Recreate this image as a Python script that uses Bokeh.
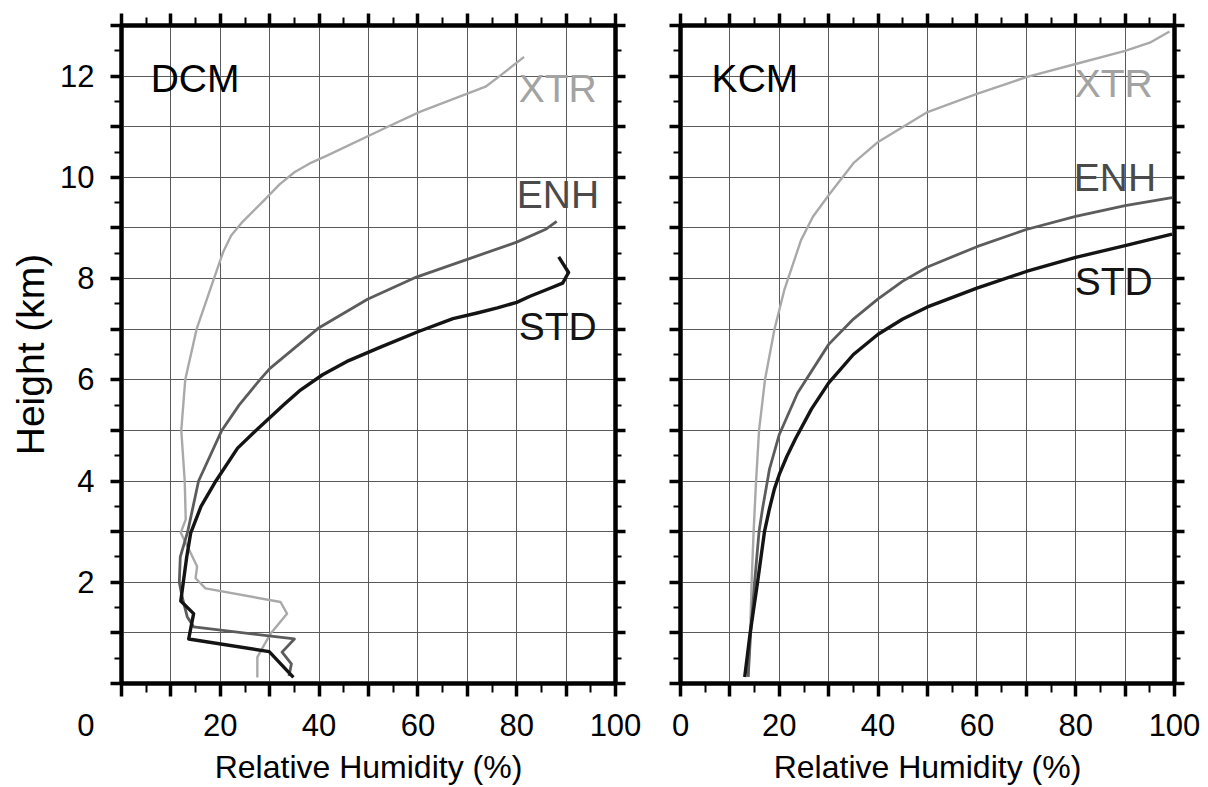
from bokeh.plotting import figure
from bokeh.layouts import row
from bokeh.models import FixedTicker, LinearAxis, Label, Range1d, Grid
from bokeh.embed import file_html
from bokeh.resources import INLINE

# ---------------- data ----------------
dcm_std_rh = [34.8, 29.9, 13.6, 14.6, 12.0, 12.5, 13.2, 14.0, 16.1, 18.9, 23.5, 27.0,
              32.9, 36.0, 40.7, 46.0, 52.3, 60.0, 67.1, 72.0, 76.1, 80.0, 82.7, 86.0,
              89.3, 90.5, 88.5]
dcm_std_z = [0.12, 0.63, 0.88, 1.38, 1.63, 1.99, 2.50, 2.97, 3.50, 3.97, 4.65, 4.98,
             5.51, 5.78, 6.10, 6.38, 6.64, 6.95, 7.21, 7.32, 7.42, 7.53, 7.65, 7.78,
             7.91, 8.12, 8.43]

dcm_enh_rh = [33.9, 34.4, 32.5, 35.0, 14.6, 13.3, 12.3, 11.7, 11.9, 13.4, 15.6, 20.3,
              23.8, 28.0, 30.0, 40.0, 49.8, 59.7, 70.0, 80.0, 86.0, 88.1]
dcm_enh_z = [0.15, 0.39, 0.62, 0.88, 1.12, 1.32, 1.70, 2.00, 2.50, 3.00, 4.00, 5.00,
             5.50, 6.00, 6.22, 7.03, 7.59, 8.03, 8.38, 8.72, 8.98, 9.13]

dcm_xtr_rh = [27.5, 27.5, 30.2, 33.5, 32.2, 17.0, 15.0, 15.3, 14.0, 12.0, 13.0, 12.8,
              12.1, 12.9, 15.2, 18.5, 20.6, 22.2, 24.3, 29.2, 32.0, 35.0, 38.0, 41.6,
              53.9, 60.5, 73.7, 76.8, 81.5]
dcm_xtr_z = [0.12, 0.52, 0.99, 1.38, 1.61, 1.88, 2.08, 2.31, 2.58, 2.98, 3.24, 4.00,
             5.00, 6.00, 7.00, 7.94, 8.53, 8.85, 9.10, 9.58, 9.86, 10.10, 10.27, 10.43,
             11.00, 11.30, 11.79, 12.02, 12.38]

kcm_std_rh = [13.0, 14.1, 15.6, 17.0, 18.0, 19.0, 20.0, 21.5, 23.3, 26.5, 30.0, 35.0,
              40.0, 45.0, 50.0, 60.0, 70.0, 80.0, 90.0, 99.5]
kcm_std_z = [0.13, 1.00, 2.00, 3.00, 3.45, 3.84, 4.13, 4.48, 4.84, 5.42, 5.94, 6.50,
             6.90, 7.20, 7.44, 7.81, 8.14, 8.42, 8.65, 8.88]

kcm_enh_rh = [13.7, 14.2, 15.0, 15.9, 16.6, 18.0, 20.0, 23.7, 30.0, 35.0, 40.0, 45.0,
              50.0, 60.0, 70.0, 80.0, 90.0, 99.5]
kcm_enh_z = [0.13, 1.00, 2.00, 3.00, 3.45, 4.23, 4.92, 5.74, 6.70, 7.20, 7.60, 7.95,
             8.23, 8.63, 8.97, 9.23, 9.44, 9.60]

kcm_xtr_rh = [13.7, 14.1, 14.4, 14.8, 15.3, 15.9, 17.1, 19.0, 21.0, 24.4, 26.8, 30.1,
              35.0, 40.0, 50.0, 60.0, 70.0, 80.0, 90.0, 95.0, 99.0]
kcm_xtr_z = [0.13, 1.00, 2.00, 3.00, 4.00, 5.00, 6.00, 6.99, 7.77, 8.76, 9.22, 9.66,
             10.28, 10.70, 11.29, 11.65, 11.98, 12.24, 12.50, 12.66, 12.88]

panel_names = ["DCM", "KCM"]
series_names = ["XTR", "ENH", "STD"]
x_ticks = [0, 10, 20, 30, 40, 50, 60, 70, 80, 90, 100]
x_minor = [5, 15, 25, 35, 45, 55, 65, 75, 85, 95]
x_labels_left = [20, 40, 60, 80, 100]
x_labels_right = [0, 20, 40, 60, 80, 100]
y_ticks = list(range(0, 14))
y_minor = [i + 0.5 for i in range(0, 13)]
y_labels = [0, 2, 4, 6, 8, 10, 12]
x_title = "Relative Humidity (%)"
y_title = "Height (km)"

FONT = "Liberation Sans"
COL = {"XTR": "#a9a9a9", "ENH": "#5c5c5c", "STD": "#141414"}
LW = {"XTR": 2.4, "ENH": 2.8, "STD": 3.4}
TXT = {"XTR": "#a3a3a3", "ENH": "#4a4a4a", "STD": "#141414"}


def tick_axis(ticks, minor, major_len, minor_len):
    """Axis that draws the frame line and tick marks only (no labels)."""
    ax = LinearAxis(ticker=FixedTicker(ticks=ticks, minor_ticks=minor))
    ax.axis_line_width = 4
    ax.axis_line_color = "black"
    ax.major_tick_in = 0
    ax.major_tick_out = major_len
    ax.major_tick_line_width = 3.5
    ax.major_tick_line_color = "black"
    ax.minor_tick_in = 0
    ax.minor_tick_out = minor_len
    ax.minor_tick_line_width = 2
    ax.minor_tick_line_color = "black"
    ax.major_label_text_color = None
    ax.major_label_text_font_size = "1px"
    ax.major_label_standoff = 0
    return ax


def label_axis(ticks, standoff):
    """Axis that draws the tick labels only (no line, no tick marks)."""
    ax = LinearAxis(ticker=FixedTicker(ticks=ticks, minor_ticks=[]))
    ax.axis_line_color = None
    ax.major_tick_in = 0
    ax.major_tick_out = 0
    ax.major_tick_line_color = None
    ax.minor_tick_in = 0
    ax.minor_tick_out = 0
    ax.minor_tick_line_color = None
    ax.major_label_text_font = FONT
    ax.major_label_text_font_size = "31px"
    ax.major_label_text_color = "black"
    ax.major_label_standoff = standoff
    return ax


def make_panel(width, bl, br, series, is_left):
    p = figure(width=width, height=787, x_range=Range1d(0, 100), y_range=Range1d(0, 13),
               x_axis_type=None, y_axis_type=None, output_backend="svg",
               toolbar_location=None, min_border_left=bl, min_border_right=br,
               min_border_top=25, min_border_bottom=104)
    p.outline_line_color = "black"
    p.outline_line_width = 4
    p.background_fill_color = "white"
    p.border_fill_color = "white"

    p.add_layout(Grid(dimension=0, ticker=FixedTicker(ticks=x_ticks[1:-1]),
                      grid_line_color="#5a5a5a", grid_line_width=1))
    p.add_layout(Grid(dimension=1, ticker=FixedTicker(ticks=y_ticks[1:-1]),
                      grid_line_color="#5a5a5a", grid_line_width=1))

    # bottom: ticks, then labels + title
    p.add_layout(tick_axis(x_ticks, x_minor, 13, 9), "below")
    xl = label_axis(x_labels_left if is_left else x_labels_right, 17)
    xl.axis_label = x_title
    xl.axis_label_text_font = FONT
    xl.axis_label_text_font_size = "32px"
    xl.axis_label_text_font_style = "normal"
    xl.axis_label_text_color = "black"
    xl.axis_label_standoff = 10
    p.add_layout(xl, "below")

    # top ticks
    p.add_layout(tick_axis(x_ticks, x_minor, 12, 8), "above")

    # left ticks (+ labels on the left panel)
    p.add_layout(tick_axis(y_ticks, y_minor, 11, 7), "left")
    if is_left:
        yl = label_axis(y_labels, 16)
        # the origin "0" is printed low, on the row of the humidity labels
        yl.major_label_overrides = {0: "\n\n0"}
        yl.axis_label = y_title
        yl.axis_label_text_font = FONT
        yl.axis_label_text_font_size = "39px"
        yl.axis_label_text_font_style = "normal"
        yl.axis_label_text_color = "black"
        yl.axis_label_standoff = 5
        p.add_layout(yl, "left")

    # right ticks
    p.add_layout(tick_axis(y_ticks, y_minor, 10, 6), "right")

    for key in series_names:
        xs, ys = series[key]
        p.line(xs, ys, line_color=COL[key], line_width=LW[key], line_join="round")
    return p


p1 = make_panel(646, 121, 31,
                {"XTR": (dcm_xtr_rh, dcm_xtr_z), "ENH": (dcm_enh_rh, dcm_enh_z),
                 "STD": (dcm_std_rh, dcm_std_z)}, True)
p2 = make_panel(562, 34, 34,
                {"XTR": (kcm_xtr_rh, kcm_xtr_z), "ENH": (kcm_enh_rh, kcm_enh_z),
                 "STD": (kcm_std_rh, kcm_std_z)}, False)

# panel titles and series labels (positions are label centres)
for p, name, pos in [
    (p1, panel_names[0], {"title": (5.9, 11.96), "XTR": (80.4, 11.75), "ENH": (80.0, 9.67), "STD": (80.4, 7.05)}),
    (p2, panel_names[1], {"title": (6.3, 11.96), "XTR": (79.8, 11.85), "ENH": (79.6, 10.00), "STD": (79.8, 7.94)}),
]:
    tx, ty = pos["title"]
    p.add_layout(Label(x=tx, y=ty, text=name, text_font=FONT, text_font_size="39px",
                       text_color="black", text_baseline="middle", text_align="left"))
    for key in series_names:
        lx, ly = pos[key]
        p.add_layout(Label(x=lx, y=ly, text=key, text_font=FONT, text_font_size="39px",
                           text_color=TXT[key], text_baseline="middle", text_align="left"))

layout = row(p1, p2)
open("out.html", "w").write(file_html(layout, INLINE))
